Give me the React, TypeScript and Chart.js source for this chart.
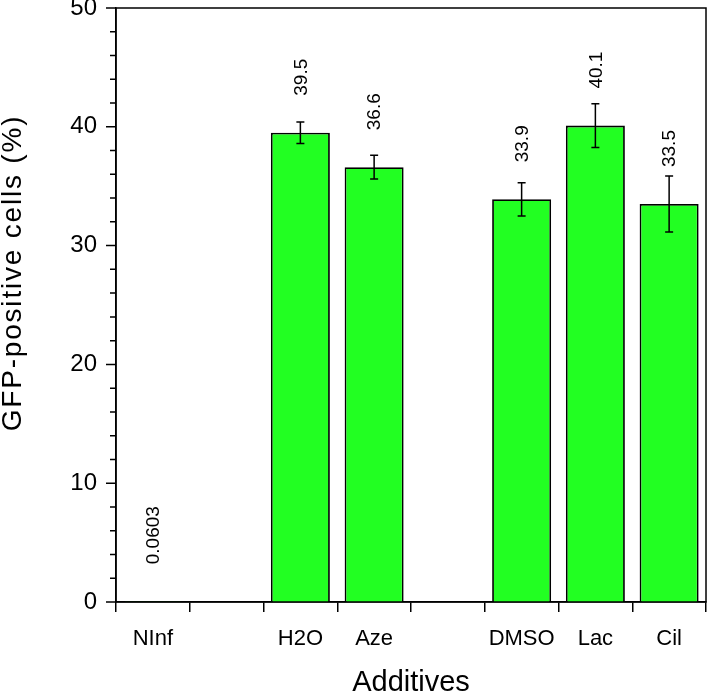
import React, { useEffect, useRef } from 'react';
import { Chart, registerables } from 'chart.js';

Chart.register(...registerables);

// Treatment groups; empty strings are spacer slots between groups
const categories = ['NInf', '', 'H2O', 'Aze', '', 'DMSO', 'Lac', 'Cil'];
// Percentage of GFP-positive cells
const gfpPositive: (number | null)[] = [0.0603, null, 39.5, 36.6, null, 33.9, 40.1, 33.5];
// Error-bar half widths
const gfpError: (number | null)[] = [0, null, 0.9, 1.0, null, 1.4, 1.85, 2.35];
// Y-axis range and tick spacing
const yMin = 0;
const yMax = 50;
const yMajorStep = 10;
const yMinorStep = 2;
const yTitle = 'GFP-positive cells (%)';
const xTitle = 'Additives';

const FONT = '"Liberation Sans", Arial, Helvetica, sans-serif';
const INK = '#000000';
const BAR_GREEN = '#22ff22';

const errorBarPlugin = {
  id: 'errorBars',
  afterDatasetsDraw(chart: any) {
    const { ctx } = chart;
    const yScale = chart.scales.y;
    const meta = chart.getDatasetMeta(0);
    ctx.save();
    ctx.strokeStyle = INK;
    ctx.lineWidth = 1.5;
    meta.data.forEach((bar: any, i: number) => {
      const v = gfpPositive[i];
      const e = gfpError[i];
      if (v == null || !e) return;
      const x = bar.x;
      const yTop = yScale.getPixelForValue(v + e);
      const yBot = yScale.getPixelForValue(v - e);
      const cap = 4;
      ctx.beginPath();
      ctx.moveTo(x, yTop);
      ctx.lineTo(x, yBot);
      ctx.moveTo(x - cap, yTop);
      ctx.lineTo(x + cap, yTop);
      ctx.moveTo(x - cap, yBot);
      ctx.lineTo(x + cap, yBot);
      ctx.stroke();
    });
    ctx.restore();
  },
};

const valueLabelPlugin = {
  id: 'valueLabels',
  afterDatasetsDraw(chart: any) {
    const { ctx } = chart;
    const yScale = chart.scales.y;
    const meta = chart.getDatasetMeta(0);
    ctx.save();
    ctx.fillStyle = INK;
    ctx.font = `19px ${FONT}`;
    ctx.textAlign = 'left';
    ctx.textBaseline = 'middle';
    meta.data.forEach((bar: any, i: number) => {
      const v = gfpPositive[i];
      if (v == null) return;
      ctx.save();
      ctx.translate(bar.x + 1, yScale.getPixelForValue(v) - 37);
      ctx.rotate(-Math.PI / 2);
      ctx.fillText(String(v), 0, 0);
      ctx.restore();
    });
    ctx.restore();
  },
};

const framePlugin = {
  id: 'frameTicksTitle',
  afterDraw(chart: any) {
    const { ctx, chartArea } = chart;
    const { left, top, right, bottom } = chartArea;
    const yScale = chart.scales.y;
    ctx.save();
    ctx.strokeStyle = INK;
    ctx.lineWidth = 1.5;
    ctx.strokeRect(left, top, right - left, bottom - top);
    // major and minor y ticks, pointing outward
    ctx.beginPath();
    for (let v = yMin; v <= yMax + 1e-9; v += yMinorStep) {
      const y = yScale.getPixelForValue(v);
      const len = Math.abs(v % yMajorStep) < 1e-9 ? 10 : 6;
      ctx.moveTo(left, y);
      ctx.lineTo(left - len, y);
    }
    ctx.stroke();
    // y-axis title
    ctx.fillStyle = INK;
    ctx.font = `28px ${FONT}`;
    (ctx as any).letterSpacing = '1.8px';
    ctx.textAlign = 'center';
    ctx.textBaseline = 'middle';
    ctx.translate(13, 273);
    ctx.rotate(-Math.PI / 2);
    ctx.fillText(yTitle, 0, 0);
    ctx.restore();
  },
};

export default function App() {
  const canvasRef = useRef<HTMLCanvasElement | null>(null);

  useEffect(() => {
    if (!canvasRef.current) return;
    const chart = new Chart(canvasRef.current, {
      type: 'bar',
      data: {
        labels: categories,
        datasets: [
          {
            data: gfpPositive,
            backgroundColor: BAR_GREEN,
            borderColor: INK,
            borderWidth: 1.8,
            categoryPercentage: 0.8,
            barPercentage: 1.0,
          },
        ],
      },
      options: {
        animation: false,
        responsive: true,
        maintainAspectRatio: false,
        layout: { padding: { top: 8, right: 2, left: 0, bottom: 0 } },
        plugins: {
          legend: { display: false },
          tooltip: { enabled: false },
        },
        scales: {
          x: {
            type: 'category',
            offset: true,
            grid: {
              display: true,
              drawOnChartArea: false,
              drawTicks: true,
              tickLength: 10,
              offset: true,
              color: INK,
              lineWidth: 1.5,
            },
            border: { display: true, color: INK, width: 1.5 },
            ticks: {
              color: INK,
              font: { family: FONT, size: 22 },
              padding: 14,
              maxRotation: 0,
              autoSkip: false,
            },
            title: {
              display: true,
              text: xTitle,
              color: INK,
              font: { family: FONT, size: 29 },
              padding: { top: 0, bottom: -3 },
            },
            afterFit(scale: any) {
              scale.height = 95;
              scale.paddingLeft = 0;
              scale.paddingRight = 0;
            },
          },
          y: {
            min: yMin,
            max: yMax,
            grid: { display: false, drawTicks: false },
            border: { display: true, color: INK, width: 1.5 },
            ticks: {
              stepSize: yMajorStep,
              color: INK,
              font: { family: FONT, size: 24 },
              padding: 19,
            },
            title: { display: false },
            afterFit(scale: any) {
              scale.width = 116;
              scale.paddingTop = 0;
              scale.paddingBottom = 0;
            },
          },
        },
      } as any,
      plugins: [errorBarPlugin, valueLabelPlugin, framePlugin],
    });
    return () => chart.destroy();
  }, []);

  return (
    <div style={{ position: 'absolute', left: 0, top: 0, width: 708, height: 697, background: '#ffffff' }}>
      <canvas ref={canvasRef} />
    </div>
  );
}
